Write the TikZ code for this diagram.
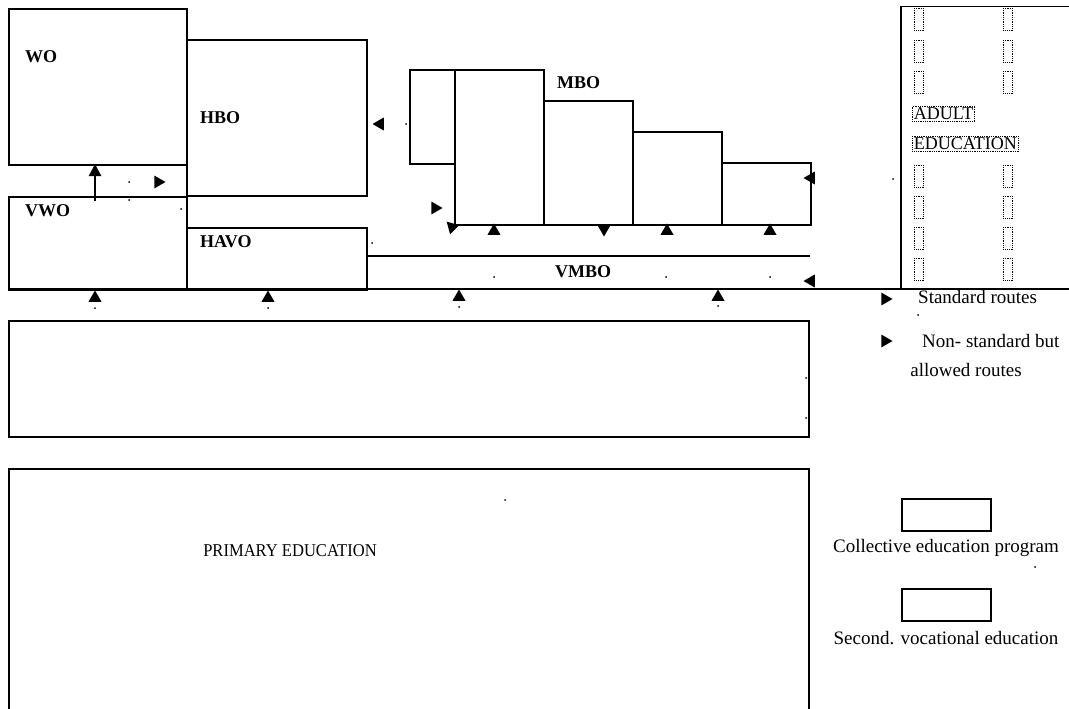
\documentclass[tikz,border=0pt]{standalone}
\usepackage{fontspec}
\setmainfont{Liberation Serif}
\usetikzlibrary{shapes.geometric,arrows.meta}
\begin{document}
\begin{tikzpicture}[x=1pt,y=-1pt,
  box/.style={draw,line width=1.8pt,anchor=north west,inner sep=0pt},
  lbl/.style={font=\fontsize{18}{20}\selectfont\bfseries,anchor=west,inner sep=0pt},
  txt/.style={font=\fontsize{19}{22}\selectfont,inner sep=0pt},
  tri/.style={regular polygon,regular polygon sides=3,fill=black,inner sep=0pt,minimum size=15pt},
  dotnode/.style={circle,fill=black,inner sep=0pt,minimum size=2pt},
  smallbox/.style={draw,densely dotted,line width=0.8pt,anchor=north west,inner sep=0pt,minimum width=9pt,minimum height=22pt},
  tagbox/.style={draw,densely dotted,line width=0.8pt,inner sep=1.5pt,anchor=west,font=\fontsize{18}{20}\selectfont}]
\useasboundingbox (0,0) rectangle (1069,709);
% main boxes
\node[box,minimum width=178pt,minimum height=156pt] (wo) at (8,8) {};
\node[box,minimum width=180pt,minimum height=156pt] (hbo) at (186,39) {};
\node[box,minimum width=178pt,minimum height=93pt] (vwo) at (8,196) {};
\node[box,minimum width=180pt,minimum height=62pt] (havo) at (186,227) {};
\node[lbl] (wol) at (25,57) {WO};
\node[lbl] (hbol) at (200,118) {HBO};
\node[lbl] (vwol) at (25,211) {VWO};
\node[lbl] (havol) at (200,242) {HAVO};
% VMBO
\coordinate (vm1) at (366,256);
\coordinate (vm2) at (810,256);
\coordinate (bl1) at (8,289);
\coordinate (bl2) at (1069,289);
\draw[line width=1.5pt] (vm1) -- (vm2);
\draw[line width=2.2pt] (bl1) -- (bl2);
\node[lbl] (vmbol) at (555,272) {VMBO};
% MBO
\node[box,minimum width=45pt,minimum height=94pt] (mbo0) at (409,69) {};
\node[box,minimum width=89pt,minimum height=155pt] (mbo1) at (454,69) {};
\node[box,minimum width=89pt,minimum height=124pt] (mbo2) at (543,100) {};
\node[box,minimum width=89pt,minimum height=93pt] (mbo3) at (632,131) {};
\node[box,minimum width=89pt,minimum height=62pt] (mbo4) at (721,162) {};
\node[lbl] (mbol) at (557,83) {MBO};
% adult education
\node[draw,line width=1.5pt,anchor=north west,minimum width=175pt,minimum height=282pt,inner sep=0pt] (adult) at (900,6) {};
\foreach \yy [count=\i] in {8,40,71,165,196,227,258}{
  \node[smallbox] (sa\i) at (914,\yy) {};
  \node[smallbox] (sb\i) at (1003,\yy) {};
}
\node[tagbox] (adt) at (912,113.5) {ADULT};
\node[tagbox] (edt) at (912,144) {EDUCATION};
% arrow WO <- VWO
\coordinate (aw1) at (95,201);
\coordinate (aw2) at (95,164);
\draw[line width=2.2pt,-{Triangle[length=12pt,width=12pt]}] (aw1) -- (aw2);
% triangles
\node[tri,rotate=-90] (t1) at (158,182) {};
\node[tri,rotate=90] (t2) at (380,124) {};
\node[tri,rotate=-90] (t3) at (435,208) {};
\node[tri,rotate=165] (t4) at (452,227) {};
\node[tri] (t5) at (494,231) {};
\node[tri,rotate=180] (t6) at (604,229) {};
\node[tri] (t7) at (667,231) {};
\node[tri] (t8) at (770,231) {};
\node[tri,rotate=90] (t9) at (811,178) {};
\node[tri,rotate=90] (t10) at (811,281) {};
\node[tri] (u1) at (95,298) {};
\node[tri] (u2) at (268,298) {};
\node[tri] (u3) at (459,297) {};
\node[tri] (u4) at (718,297) {};
% dots
\foreach \p [count=\i] in {(129,182),(129,200),(181,209),(406,124),(372,243),(494,277),(666,277),(770,277),(893,179),(95,308),(268,308),(459,307),(718,306),(806,378),(806,418),(505,500),(918,315),(1035,567)}{
  \node[dotnode] (d\i) at \p {};
}
% lower boxes
\node[box,minimum width=800pt,minimum height=116pt] (mid) at (8,320) {};
\node[box,minimum width=800pt,minimum height=250pt] (prim) at (8,468) {};
\node[txt,font=\fontsize{18}{20}\selectfont] (priml) at (290,551) {\addfontfeatures{FakeStretch=0.92}PRIMARY EDUCATION};
% legend
\node[tri,rotate=-90] (lt1) at (885,299) {};
\node[txt,anchor=west] (lg1) at (918,297) {Standard routes};
\node[tri,rotate=-90] (lt2) at (885,341) {};
\node[txt,anchor=west] (lg2) at (922,341) {Non- standard but};
\node[txt] (lg3) at (966,370) {allowed routes};
\node[draw,line width=1.5pt,anchor=north west,minimum width=89pt,minimum height=32pt,inner sep=0pt] (lb1) at (901,498) {};
\node[txt] (lg4) at (946,548) {Collective education program};
\node[draw,line width=1.5pt,anchor=north west,minimum width=89pt,minimum height=32pt,inner sep=0pt] (lb2) at (901,588) {};
\node[txt] (lg5) at (946,638) {Second. vocational education};
\end{tikzpicture}
\end{document}
